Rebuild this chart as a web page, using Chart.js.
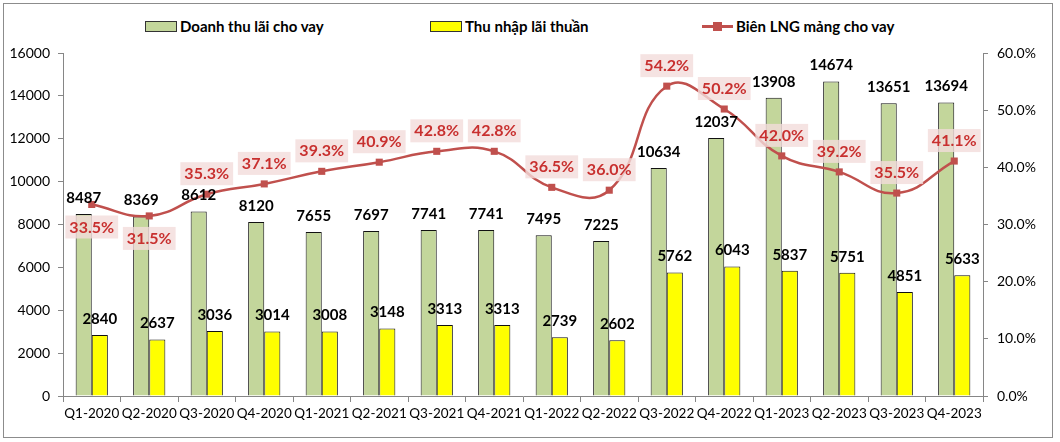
<!DOCTYPE html>
<html lang="vi">
<head>
<meta charset="UTF-8">
<title>Doanh thu lãi cho vay</title>
<script src="https://cdn.jsdelivr.net/npm/chart.js"></script>
<style>
    body { margin: 0; background: #fff; font-family: Lato, sans-serif; }
    #wrap { position: relative; width: 1060px; height: 442px; }
    .frame { position: absolute; left: 3px; top: 3px; width: 1048px; height: 433px; border: 1px solid #8c8c8c; }
    .leg { position: absolute; top: 17px; display: flex; align-items: center; font: bold 15px Lato, sans-serif; color: #000; white-space: nowrap; }
    .leg .box { width: 30px; height: 9px; border: 1px solid #333; margin-right: 3px; }
    .leg .ln { position: relative; width: 31px; height: 3px; background: #c0504d; margin-right: 3px; }
    .leg .ln i { position: absolute; left: 11px; top: -3px; width: 9px; height: 9px; background: #c0504d; }
    canvas { position: absolute; left: 0; top: 0; }
</style>
</head>
<body>
<div id="wrap">
    <div class="frame"></div>
    <div class="leg" style="left:145px"><span class="box" style="background:#c3d69b"></span>Doanh thu lãi cho vay</div>
    <div class="leg" style="left:430px"><span class="box" style="background:#ffff00"></span>Thu nhập lãi thuần</div>
    <div class="leg" style="left:702px"><span class="ln"><i></i></span>Biên LNG mảng cho vay</div>
    <canvas id="chart" width="1060" height="442"></canvas>
</div>

<script>
// du lieu doc tu hinh
const quarters = ['Q1-2020', 'Q2-2020', 'Q3-2020', 'Q4-2020', 'Q1-2021', 'Q2-2021', 'Q3-2021', 'Q4-2021',
    'Q1-2022', 'Q2-2022', 'Q3-2022', 'Q4-2022', 'Q1-2023', 'Q2-2023', 'Q3-2023', 'Q4-2023'];
const doanhThu = [8487, 8369, 8612, 8120, 7655, 7697, 7741, 7741, 7495, 7225, 10634, 12037, 13908, 14674, 13651, 13694];
const thuNhap = [2840, 2637, 3036, 3014, 3008, 3148, 3313, 3313, 2739, 2602, 5762, 6043, 5837, 5751, 4851, 5633];
const bienLNG = [33.5, 31.5, 35.3, 37.1, 39.3, 40.9, 42.8, 42.8, 36.5, 36.0, 54.2, 50.2, 42.0, 39.2, 35.5, 41.1];
const leftTicks = [0, 16000, 2000];   // min, max, step
const rightTicks = [0, 60, 10];
const labelBelow = [0, 1];   // nhan % nam duoi diem

const red = '#c0504d';
const axisColor = '#868686';

// ve nhan gia tri (khong co plugin datalabels)
const nhanGiaTri = {
    id: 'nhanGiaTri',
    afterDatasetsDraw(chart) {
        const ctx = chart.ctx;
        ctx.save();
        ctx.textAlign = 'center';
        ctx.textBaseline = 'middle';
        chart.data.datasets.forEach((ds, i) => {
            const meta = chart.getDatasetMeta(i);
            meta.data.forEach((el, j) => {
                const v = ds.data[j];
                if (ds.type === 'line') {
                    const txt = v.toFixed(1) + '%';
                    ctx.font = 'bold 16px Lato';
                    const w = ctx.measureText(txt).width + 8;
                    const y = el.y + (labelBelow.includes(j) ? 22 : -21);
                    ctx.fillStyle = 'rgba(242, 220, 219, 0.8)';
                    ctx.fillRect(el.x - w / 2, y - 11, w, 23);
                    ctx.fillStyle = '#c8302f';
                    ctx.fillText(txt, el.x, y + 1);
                } else {
                    ctx.font = 'bold 15px Lato';
                    ctx.fillStyle = '#000';
                    ctx.fillText(String(v), el.x, el.y - 16);
                }
            });
        });
        ctx.restore();
    }
};

const tickFont = { family: 'Lato', size: 14 };

new Chart(document.getElementById('chart'), {
    type: 'bar',
    data: {
        labels: quarters,
        datasets: [
            {
                type: 'line',
                label: 'Biên LNG mảng cho vay',
                data: bienLNG,
                yAxisID: 'y1',
                borderColor: red,
                borderWidth: 2.5,
                backgroundColor: red,
                pointStyle: 'rect',
                pointRadius: 5,
                pointBorderWidth: 0,
                tension: 0.45,
                order: 0
            },
            {
                label: 'Doanh thu lãi cho vay',
                data: doanhThu,
                yAxisID: 'y',
                backgroundColor: '#c3d69b',
                borderColor: '#111',
                borderWidth: 1,
                order: 1
            },
            {
                label: 'Thu nhập lãi thuần',
                data: thuNhap,
                yAxisID: 'y',
                backgroundColor: '#ffff00',
                borderColor: '#111',
                borderWidth: 1,
                order: 1
            }
        ]
    },
    options: {
        responsive: false,
        animation: false,
        devicePixelRatio: 1,
        categoryPercentage: 0.56,
        barPercentage: 1.0,
        layout: { padding: { top: 53, bottom: 0, left: 0, right: 0 } },
        plugins: {
            legend: { display: false },
            tooltip: { enabled: false }
        },
        scales: {
            x: {
                grid: { drawOnChartArea: false, drawTicks: true, tickLength: 6, color: axisColor, offset: true },
                border: { color: axisColor },
                ticks: { font: { family: 'Lato', size: 13.5 }, color: '#000', padding: 4, maxRotation: 0, autoSkip: false },
                afterFit(s) { s.height = 46; }
            },
            y: {
                position: 'left',
                min: leftTicks[0],
                max: leftTicks[1],
                ticks: { stepSize: leftTicks[2], font: tickFont, color: '#000', padding: 8,
                    callback: v => String(v) },
                grid: { drawOnChartArea: false, tickLength: 5, color: axisColor },
                border: { color: axisColor },
                afterFit(s) { s.width = 63; }
            },
            y1: {
                position: 'right',
                min: rightTicks[0],
                max: rightTicks[1],
                ticks: { stepSize: rightTicks[2], font: tickFont, color: '#000', padding: 9,
                    callback: v => v.toFixed(1) + '%' },
                grid: { drawOnChartArea: false, tickLength: 5, color: axisColor },
                border: { color: axisColor },
                afterFit(s) { s.width = 77; }
            }
        }
    },
    plugins: [nhanGiaTri]
});
</script>
</body>
</html>
